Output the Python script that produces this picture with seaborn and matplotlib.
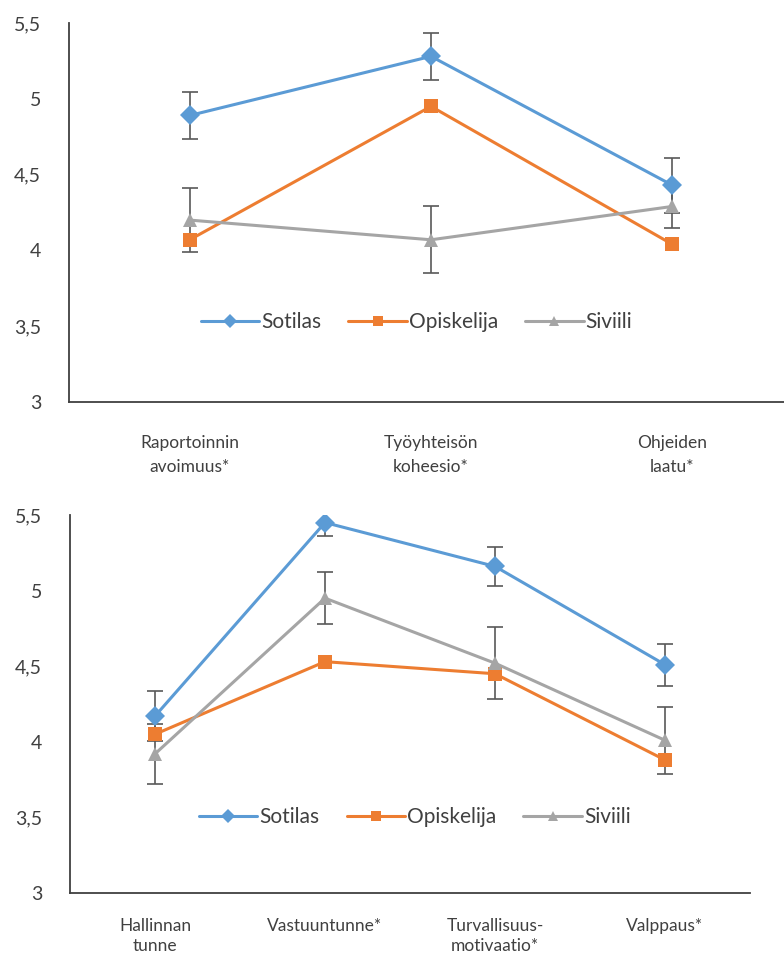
import matplotlib
matplotlib.use('Agg')
import matplotlib.pyplot as plt
import seaborn as sns
import pandas as pd

# Ryhmät ja niiden tyylit
ryhmat = ['Sotilas', 'Opiskelija', 'Siviili']
varit = ['#5B9BD5', '#ED7D31', '#A5A5A5']
merkit = ['D', 's', '^']

# Ylempi kuvio
yla_kategoriat = ['Raportoinnin\navoimuus*', 'Työyhteisön\nkoheesio*', 'Ohjeiden\nlaatu*']
yla_sotilas = [4.89, 5.28, 4.43]
yla_opiskelija = [4.07, 4.95, 4.04]
yla_siviili = [4.20, 4.07, 4.29]
yla_virhe_sotilas = [0.155, 0.155, 0.18]
yla_virhe_siviili = [0.21, 0.22, 0.14]

# Alempi kuvio
ala_kategoriat = ['Hallinnan\ntunne', 'Vastuuntunne*', 'Turvallisuus-\nmotivaatio*', 'Valppaus*']
ala_sotilas = [4.17, 5.45, 5.16, 4.51]
ala_opiskelija = [4.05, 4.53, 4.45, 3.88]
ala_siviili = [3.92, 4.95, 4.52, 4.01]
ala_virhe_sotilas = [0.165, 0.09, 0.13, 0.14]
ala_virhe_siviili = [0.20, 0.17, 0.24, 0.22]

y_tikit = [3, 3.5, 4, 4.5, 5, 5.5]
y_nimet = ['3', '3,5', '4', '4,5', '5', '5,5']

sns.set_style('white')
plt.rcParams['font.family'] = ['Lato', 'DejaVu Sans']
tekstivari = '#404040'


def piirra(ax, kategoriat, sotilas, opiskelija, siviili, virhe_sot, virhe_siv,
           legend_xy, x_pad, rivivali):
    df = pd.DataFrame({
        'Kategoria': kategoriat * 3,
        'Arvo': sotilas + opiskelija + siviili,
        'Ryhmä': [r for r in ryhmat for _ in kategoriat],
    })
    sns.lineplot(data=df, x='Kategoria', y='Arvo', hue='Ryhmä', style='Ryhmä',
                 palette=dict(zip(ryhmat, varit)), markers=dict(zip(ryhmat, merkit)),
                 dashes=False, sort=False, lw=2.2, markersize=10, markeredgewidth=0, ax=ax)
    # Virhepalkit (Sotilas ja Siviili)
    pos = list(range(len(kategoriat)))
    ax.errorbar(pos, sotilas, yerr=virhe_sot, fmt='none', ecolor='#595959',
                elinewidth=1.2, capsize=6, capthick=1.2, zorder=1)
    ax.errorbar(pos, siviili, yerr=virhe_siv, fmt='none', ecolor='#595959',
                elinewidth=1.2, capsize=6, capthick=1.2, zorder=1)

    ax.set_ylim(3, 5.5)
    ax.set_xlim(-0.5, len(kategoriat) - 0.5)
    ax.set_yticks(y_tikit)
    ax.set_yticklabels(y_nimet, fontsize=14, color=tekstivari)
    ax.set_xticks(pos)
    ax.set_xticklabels(kategoriat, fontsize=12.5, color=tekstivari, linespacing=rivivali)
    ax.tick_params(axis='y', length=0, pad=20)
    ax.tick_params(axis='x', direction='in', length=5, width=1, color=tekstivari, pad=x_pad)
    ax.set_xlabel('')
    ax.set_ylabel('')
    for s in ['top', 'right']:
        ax.spines[s].set_visible(False)
    for s in ['left', 'bottom']:
        ax.spines[s].set_color(tekstivari)
        ax.spines[s].set_linewidth(1.3)
    leg = ax.legend(loc='center', bbox_to_anchor=legend_xy, ncol=3, frameon=False,
                    handlelength=2.8, handletextpad=0.1, columnspacing=1.3, fontsize=15)
    for t in leg.get_texts():
        t.set_color(tekstivari)
    for h in leg.legend_handles:
        h.set_markersize(7)


fig = plt.figure(figsize=(7.84, 9.6), dpi=100)
ax1 = fig.add_axes([69 / 784, 1 - 402 / 960, 724 / 784, 379 / 960])
ax2 = fig.add_axes([70 / 784, 1 - 893 / 960, 680 / 784, 378 / 960])

piirra(ax1, yla_kategoriat, yla_sotilas, yla_opiskelija, yla_siviili,
       yla_virhe_sotilas, yla_virhe_siviili, (0.48, 0.21), 24, 1.6)
piirra(ax2, ala_kategoriat, ala_sotilas, ala_opiskelija, ala_siviili,
       ala_virhe_sotilas, ala_virhe_siviili, (0.507, 0.20), 18, 1.3)

fig.savefig('out.png', dpi=100)
